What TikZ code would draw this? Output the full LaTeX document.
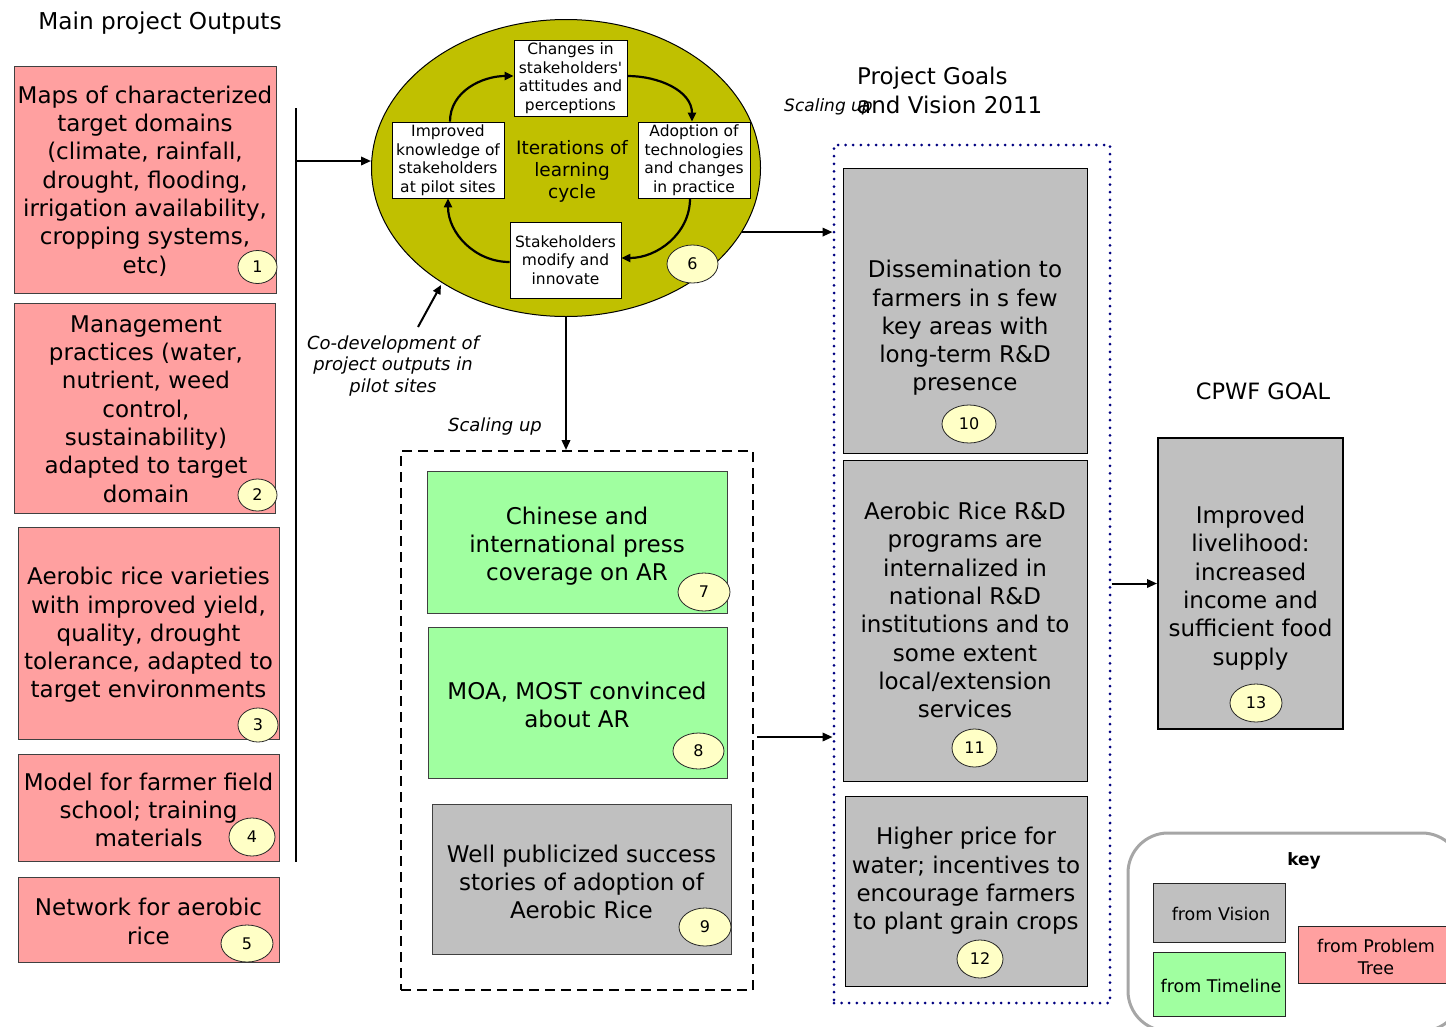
\documentclass[tikz,border=0pt]{standalone}
\usepackage{fontspec}
\setmainfont{DejaVu Sans}
\newfontfamily\plainfont{DejaVu Sans}
\usetikzlibrary{arrows.meta,shapes.geometric}
\definecolor{pinkc}{HTML}{FFA0A0}
\definecolor{grayc}{HTML}{C0C0C0}
\definecolor{greenc}{HTML}{A0FFA0}
\definecolor{olivec}{HTML}{C0C000}
\definecolor{badgec}{HTML}{FFFFC6}
\definecolor{navyc}{HTML}{000080}
\definecolor{keyline}{HTML}{A6A6A6}
\tikzset{
  fbox/.style={rectangle, draw=black!75, line width=0.9pt, inner sep=0pt},
  pinkbox/.style={fbox, fill=pinkc},
  graybox/.style={fbox, draw=black, fill=grayc},
  greenbox/.style={fbox, fill=greenc},
  cyclebox/.style={rectangle, draw=black, line width=0.9pt, fill=white, inner sep=0pt,
     minimum width=112pt, minimum height=76pt, align=center,
     font=\fontsize{15.5}{18.5}\selectfont},
  bodytxt/.style={align=center, inner sep=0pt, font=\fontsize{23}{28.3}\selectfont},
  ittxt/.style={align=center, inner sep=0pt, font=\fontsize{18}{21.5}\selectfont\itshape},
  badge/.style={ellipse, draw=black!85, line width=0.8pt, fill=badgec, inner sep=0pt,
     font=\fontsize{16}{18}\selectfont},
  arr/.style={-{Triangle[length=10pt,width=8.5pt]}, line width=2pt},
  cyc/.style={-{Triangle[length=9pt,width=8pt]}, line width=2.2pt},
  keytxt/.style={align=center, inner sep=0pt, font=\fontsize{17.5}{22}\selectfont}
}
\begin{document}
\begin{tikzpicture}[x=1pt,y=-1pt]
\useasboundingbox (0,0) rectangle (1446,1026);

% ---------- left column: main project outputs
\node[inner sep=0pt, font=\fontsize{23.2}{27}\selectfont] (ttlout) at (160,23) {Main project Outputs};

\node[pinkbox, minimum width=262pt, minimum height=227pt] (b1) at (145,179.5) {};
\node[bodytxt] (t1) at (145,181) {Maps of characterized\\target domains\\(climate, rainfall,\\drought, flooding,\\irrigation availability,\\cropping systems,\\etc)};
\node[badge, minimum width=39pt, minimum height=33pt] (n1) at (257.5,267) {1};

\node[pinkbox, minimum width=261pt, minimum height=210pt] (b2) at (144.5,408) {};
\node[bodytxt] (t2) at (146,409) {Management\\practices (water,\\nutrient, weed\\control,\\sustainability)\\adapted to target\\domain};
\node[badge, minimum width=39pt, minimum height=32pt] (n2) at (257.5,495) {2};

\node[pinkbox, minimum width=261pt, minimum height=212pt] (b3) at (148.5,633) {};
\node[bodytxt] (t3) at (148.5,635) {Aerobic rice varieties\\with improved yield,\\quality, drought\\tolerance, adapted to\\target environments};
\node[badge, minimum width=40pt, minimum height=34pt] (n3) at (258,725) {3};

\node[pinkbox, minimum width=261pt, minimum height=107pt] (b4) at (148.5,807.5) {};
\node[bodytxt] (t4) at (148.5,810) {Model for farmer field\\school; training\\materials};
\node[badge, minimum width=46pt, minimum height=38pt] (n4) at (252,837) {4};

\node[pinkbox, minimum width=261pt, minimum height=85pt] (b5) at (148.5,919.5) {};
\node[bodytxt] (t5) at (148.5,921.5) {Network for aerobic\\rice};
\node[badge, minimum width=52pt, minimum height=37pt] (n5) at (247,943.5) {5};

\coordinate (vtop) at (296,108);
\coordinate (vbot) at (296,862);
\coordinate (vj) at (296,161);
\draw[line width=2pt] (vtop) -- (vbot);

% ---------- learning cycle ellipse
\node[ellipse, draw=black, line width=1pt, fill=olivec, minimum width=389pt, minimum height=297pt, inner sep=0pt] (ell) at (566,168) {};
\draw[arr] (vj) -- (vj -| ell.west);

\node[cyclebox, minimum width=113pt] (cchg) at (570.5,78) {Changes in\\stakeholders{\plainfont'}\\attitudes and\\perceptions};
\node[cyclebox] (cimp) at (448,160) {Improved\\knowledge of\\stakeholders\\at pilot sites};
\node[cyclebox] (cadp) at (694,160) {Adoption of\\technologies\\and changes\\in practice};
\node[cyclebox, minimum width=111pt] (cstk) at (565.5,260) {Stakeholders\\modify and\\innovate};
\node[align=center, inner sep=0pt, font=\fontsize{18.5}{22}\selectfont] (citer) at (572,171) {Iterations of\\learning\\cycle};
\node[badge, minimum width=51pt, minimum height=38pt] (n6) at (692.5,264) {6};

\draw[cyc] ([xshift=2pt]cimp.north) to[out=90,in=180] ([yshift=2pt]cchg.west);
\draw[cyc] ([yshift=2pt]cchg.east) to[out=0,in=90] ([xshift=-2pt]cadp.north);
\draw[cyc] ([xshift=-4pt]cadp.south) to[out=270,in=0] ([yshift=2pt]cstk.east);
\draw[cyc] ([yshift=-2pt]cstk.west) to[out=180,in=270] (cimp.south);

\coordinate (codevtail) at (418,327);
\coordinate (codevtip) at (441,285);
\draw[-{Triangle[length=9pt,width=8pt]}, line width=2pt] (codevtail) -- (codevtip);
\node[ittxt] (tcodev) at (393,366) {Co-development of\\project outputs in\\pilot sites};

% ---------- scaling up box
\node[ittxt] (tscale) at (495,427) {Scaling up};
\node[rectangle, draw=black, line width=2pt, dash pattern=on 10pt off 6pt, minimum width=352pt, minimum height=539pt, inner sep=0pt] (sbox) at (577,720.5) {};
\draw[arr] (ell.south) -- (ell.south |- sbox.north);

\node[greenbox, minimum width=300pt, minimum height=142pt] (b7) at (577,542) {};
\node[bodytxt] (t7) at (577,546) {Chinese and\\international press\\coverage on AR};
\node[badge, minimum width=52pt, minimum height=38pt] (n7) at (704,592) {7};

\node[greenbox, minimum width=299pt, minimum height=151pt] (b8) at (577.5,702.5) {};
\node[bodytxt] (t8) at (577,705) {MOA, MOST convinced\\about AR};
\node[badge, minimum width=51pt, minimum height=36pt] (n8) at (698.5,751) {8};

\node[graybox, draw=black!75, minimum width=299pt, minimum height=150pt] (b9) at (581.5,879) {};
\node[bodytxt] (t9) at (581.5,882) {Well publicized success\\stories of adoption of\\Aerobic Rice};
\node[badge, minimum width=52pt, minimum height=38pt] (n9) at (705,927) {9};

% ---------- project goals
\node[align=left, anchor=west, inner sep=0pt, font=\fontsize{23}{29}\selectfont] (tgoals) at (857,90) {Project Goals\\and Vision 2011};
\node[anchor=west, inner sep=0pt, font=\fontsize{17}{20}\selectfont\itshape] (tscale2) at (784,107) {Scaling up};

\node[rectangle, draw=navyc, line width=3pt, line cap=round, dash pattern=on 0pt off 7.6pt, minimum width=276pt, minimum height=858pt, inner sep=0pt] (gbox) at (972,574) {};

\coordinate (ellout) at (ell.-20);
\draw[arr] (ellout) -- (ellout -| gbox.west);
\coordinate (sout) at (757,737);
\draw[arr] (sout) -- (sout -| gbox.west);

\node[graybox, minimum width=244pt, minimum height=285pt] (b10) at (965,310.5) {};
\node[bodytxt] (t10) at (965,328) {Dissemination to\\farmers in s few\\key areas with\\long-term R\&D\\presence};
\node[badge, minimum width=54pt, minimum height=38pt] (n10) at (969,424) {10};

\node[graybox, minimum width=244pt, minimum height=321pt] (b11) at (965,620.5) {};
\node[bodytxt] (t11) at (965,610) {Aerobic Rice R\&D\\programs are\\internalized in\\national R\&D\\institutions and to\\some extent\\local/extension\\services};
\node[badge, minimum width=45pt, minimum height=38pt] (n11) at (974.5,748) {11};

\node[graybox, minimum width=242pt, minimum height=190pt] (b12) at (966,891) {};
\node[bodytxt] (t12) at (966,881) {Higher price for\\water; incentives to\\encourage farmers\\to plant grain crops};
\node[badge, minimum width=46pt, minimum height=38pt] (n12) at (980,959) {12};

% ---------- CPWF goal
\node[inner sep=0pt, font=\fontsize{22.5}{27}\selectfont] (tcpwf) at (1263,391) {CPWF GOAL};
\node[graybox, line width=2pt, minimum width=185pt, minimum height=291pt] (b13) at (1250.5,583.5) {};
\node[bodytxt] (t13) at (1250.5,588) {Improved\\livelihood:\\increased\\income and\\sufficient food\\supply};
\node[badge, minimum width=52pt, minimum height=38pt] (n13) at (1256,703) {13};
\draw[arr] (gbox.east |- b13.west) -- (b13.west);

% ---------- key
\begin{scope}
\clip (0,0) rectangle (1446,1026);
\draw[keyline, line width=3pt, rounded corners=40pt] (1128,833) rectangle (1462,1031);
\node[graybox, draw=black!85, minimum width=132pt, minimum height=59pt] (kvis) at (1219,912.5) {};
\node[keytxt] (tkvis) at (1221,914) {from Vision};
\node[greenbox, draw=black!85, minimum width=132pt, minimum height=64pt] (ktim) at (1219,984) {};
\node[keytxt] (tktim) at (1221,986) {from Timeline};
\node[pinkbox, draw=black!85, minimum width=152pt, minimum height=57pt] (kprob) at (1374,954.5) {};
\node[keytxt] (tkprob) at (1376,957) {from Problem\\Tree};
\end{scope}
\node[inner sep=0pt, font=\fontsize{17}{20}\selectfont\bfseries] (tkey) at (1304,861) {key};
\end{tikzpicture}
\end{document}
